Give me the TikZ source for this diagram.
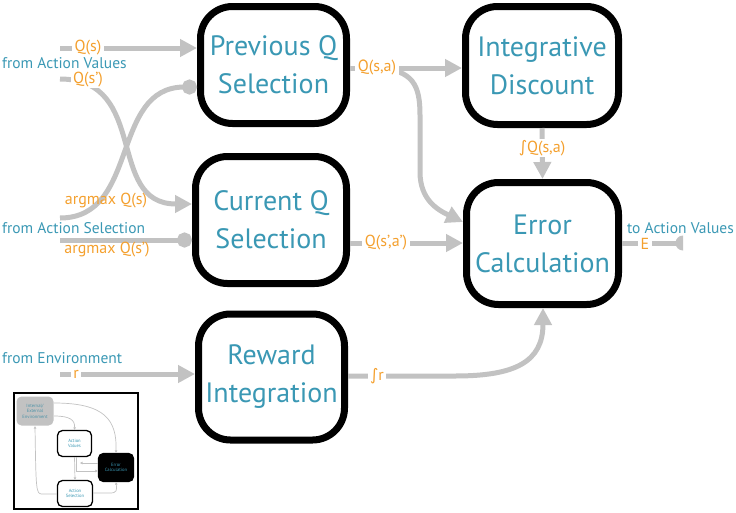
\documentclass[tikz,border=0pt]{standalone}
\usepackage{fontspec}
\setmainfont{PT Sans}
\newfontfamily\symf{DejaVu Sans}
\usetikzlibrary{arrows.meta,calc}
\definecolor{tealc}{HTML}{3A98B4}
\definecolor{orc}{HTML}{F4A02E}
\definecolor{lgray}{HTML}{C2C2C2}
\begin{document}
\begin{tikzpicture}[x=1pt,y=-1pt,
  box/.style={draw=black,line width=7pt,rounded corners=32pt,fill=white,align=center,
    text=tealc,font=\fontsize{28}{38}\selectfont,inner sep=0pt},
  conn/.style={draw=lgray,line width=5pt},
  arr/.style={-{Triangle[length=17pt,width=17pt]}},
  dotend/.style={-{Circle[length=15pt]}},
  lab/.style={text=orc,font=\fontsize{16}{18}\selectfont,fill=white,inner xsep=2.5pt,inner ysep=1pt},
  labnf/.style={text=orc,font=\fontsize{16}{18}\selectfont,inner sep=0pt},
  src/.style={text=tealc,font=\fontsize{15.5}{17}\selectfont,inner sep=0pt},
  mbox/.style={draw=black,line width=1.3pt,rounded corners=5pt,fill=white,align=center,
    text=tealc,font=\fontsize{4.6}{5.4}\selectfont,inner sep=0pt},
  mconn/.style={draw=lgray,line width=0.7pt},
  marr/.style={-{Triangle[length=2.5pt,width=2.5pt]}}]
\useasboundingbox (0,0) rectangle (736,512);

% main boxes
\node[box,minimum width=146pt,minimum height=117pt] (prev) at (273.5,65) {Previous Q\\Selection};
\node[box,minimum width=151pt,minimum height=127pt] (curr) at (271,220) {Current Q\\Selection};
\node[box,minimum width=153pt,minimum height=118pt] (integ) at (542,65.5) {Integrative\\Discount};
\node[box,minimum width=152pt,minimum height=122pt] (err) at (542.5,243.5) {Error\\Calculation};
\node[box,minimum width=146pt,minimum height=126pt] (rew) at (271.5,377) {Reward\\Integration};

% free ends
\coordinate (qs) at (60,48);
\coordinate (qsp) at (60,79);
\coordinate (amqs) at (60,218);
\coordinate (amqsp) at (60,240);
\coordinate (rin) at (60,374);
\coordinate (eend) at (683,243);

% source texts
\node[src,anchor=west] (fav) at (2,63) {from Action Values};
\node[src,anchor=west] (fas) at (2,228) {from Action Selection};
\node[src,anchor=west] (fenv) at (2,358) {from Environment};
\node[src,anchor=east] (tav) at (734,228) {to Action Values};

% connectors
\draw[conn,arr] (qs) -- (qs -| prev.west);
\draw[conn,arr] (qsp) .. controls (150,79) and (105,204) .. (curr.west |- 0,204);
\draw[conn,dotend] (amqs) .. controls (140,218) and (110,87) .. (prev.west |- 0,87);
\draw[conn,dotend] (amqsp) -- (amqsp -| curr.west);
\draw[conn,arr] (prev.east |- 0,68) -- (integ.west |- 0,68);
\node[lab] (lqsa) at (377,68) {Q(s,a)};
\draw[conn,arr] (lqsa.center) .. controls (413,70) and (420,85) .. (420,115) -- (420,172)
   .. controls (420,200) and (438,210) .. (err.west |- 0,222);
\draw[conn,arr] (curr.east |- 0,243) -- (err.west |- 0,243);
\draw[conn,arr] (integ.south) -- (err.north);
\draw[conn] (err.east |- 0,243) -- (eend);
\fill[lgray] ($(eend)+(0,-7.5)$) arc[start angle=90,end angle=270,radius=7.5pt] -- cycle;
\draw[conn,arr] (rin) -- (rin -| rew.west);
\draw[conn,arr] (rew.east |- 0,376) -- (455,376) .. controls (515,376) and (543,362) .. (err.south -| 543,0);

% labels
\node[lab] at (88,48) {Q(s)};
\node[lab] at (88,80) {Q(s')};
\node[labnf] at (106,201) {argmax Q(s)};
\node[labnf] at (107,250) {argmax Q(s')};
\node[lab] at (377,68) {Q(s,a)};
\node[lab] at (386,243) {Q(s',a')};
\node[lab] at (542,148) {{\symf ∫}Q(s,a)};
\node[lab] at (645,244) {E};
\node[lab] at (76,374) {r};
\node[lab] at (377,376) {{\symf ∫}r};

% inset thumbnail
\draw[black,line width=1.2pt] (14,393) rectangle (138,509);
\node[mbox,draw=none,fill=lgray,minimum width=37pt,minimum height=29pt,text=tealc!75!gray] (ienv) at (35,411) {Internal/\\External\\Environment};
\node[mbox,minimum width=34pt,minimum height=26pt] (iav) at (74.5,443.5) {Action\\Values};
\node[mbox,fill=black,minimum width=35pt,minimum height=28pt] (iec) at (116,467.5) {Error\\Calculation};
\node[mbox,minimum width=35pt,minimum height=26pt] (ias) at (75,493.5) {Action\\Selection};
\draw[mconn,marr] (ienv.east |- 0,403) .. controls (105,403) and (117,420) .. (iec.north);
\draw[mconn,marr] (ienv.east |- 0,416) .. controls (70,416) and (75,420) .. (iav.north);
\draw[mconn,marr] (iav.south) -- (ias.north);
\draw[mconn,marr] (iec.west |- 0,463) -- (80,463);
\draw[mconn,marr] (76,457) -- (76,471) -- (iec.west |- 0,471);
\draw[mconn,marr] (ias.east |- 0,493) -- (110,493) .. controls (117,493) and (117,490) .. (iec.south);
\draw[mconn,marr] (ias.west |- 0,494) -- (42,494) .. controls (36,494) and (36,490) .. (ienv.south);
\end{tikzpicture}
\end{document}
